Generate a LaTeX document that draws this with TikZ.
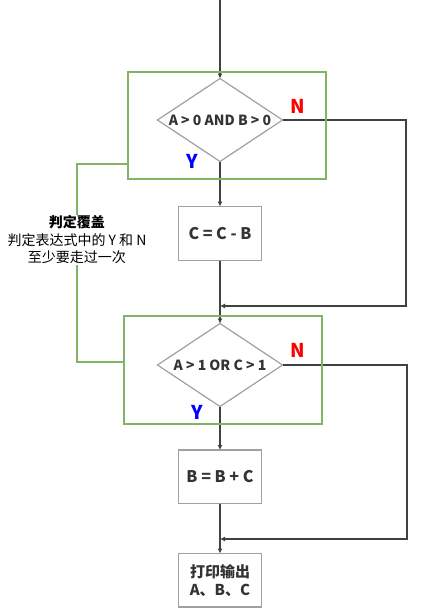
\documentclass[tikz,border=0pt]{standalone}
\usepackage{fontspec}
\setmainfont{Noto Sans CJK SC}
\usetikzlibrary{arrows.meta,positioning,shapes.geometric}
\definecolor{covergreen}{HTML}{82B366}
\definecolor{linegray}{HTML}{404040}
\definecolor{shapegray}{HTML}{A0A0A0}
\definecolor{textgray}{HTML}{333333}
\tikzset{
  decision/.style={diamond,draw=shapegray,line width=1.2pt,aspect=1.5,inner sep=0pt,outer sep=0pt,
    minimum width=125pt,minimum height=83pt,text=textgray,text height=10pt,text depth=0pt,
    font=\bfseries\fontsize{14}{16}\selectfont},
  process/.style={rectangle,draw=shapegray,line width=1.2pt,outer sep=0pt,minimum width=83pt,
    minimum height=53.5pt,align=center,text=textgray,
    font=\bfseries\fontsize{16}{18.3}\selectfont},
  coverbox/.style={rectangle,draw=covergreen,line width=2pt,minimum width=198pt,minimum height=107pt},
  coverline/.style={draw=covergreen,line width=2pt},
  flow/.style={draw=linegray,line width=1.8pt,-{Latex[length=5pt,width=5pt]}},
  nlabel/.style={text=red,font=\bfseries\fontsize{19}{20}\selectfont},
  ylabel/.style={text=blue,font=\bfseries\fontsize{19}{20}\selectfont}
}

\begin{document}
\begin{tikzpicture}[x=1pt,y=-1pt]
\useasboundingbox (0,0) rectangle (422,611);

% =========================================================
% Main flow
% =========================================================

\coordinate (start) at (220,0);

\node[decision] (d1) at (220,120) {A > 0 AND B > 0};
\node[process,minimum height=54pt,below=45pt of d1] (b1) {C = C - B};
\node[decision,below=63pt of b1] (d2) {A > 1 OR C > 1};
\node[process,below=43.5pt of d2] (b2) {B = B + C};
\node[process,font=\bfseries\fontsize{15}{18.3}\selectfont,below=50pt of b2] (b3) {打印输出\\A、B、C};

\node[nlabel] (n1) at (297.5,106) {N};
\node[ylabel] (y1) at (192.5,161) {Y};
\node[nlabel] (n2) at (297.5,350) {N};
\node[ylabel] (y2) at (197.5,412) {Y};

\draw[flow] (start) -- (d1);
\draw[flow] (d1) -- (b1);
\draw[flow] (b1) -- (d2);
\draw[flow] (d2) -- (b2);
\draw[flow] (b2) -- (b3);

% N branches join the main line again
\coordinate (j1) at (220,306);
\coordinate (r1) at (406,306);
\draw[flow] (d1.east) -| (r1) -- (j1);

\coordinate (j2) at (220,539);
\coordinate (r2) at (407,539);
\draw[flow] (d2.east) -| (r2) -- (j2);

% =========================================================
% Decision coverage
% =========================================================

\node[coverbox] (cover1) at (227,125.8) {};
\node[coverbox,minimum height=108pt] (cover2) at (223,369.5) {};

\coordinate (bend) at (77,240);
\draw[coverline] ([yshift=16pt]cover1.south west) -| (bend) |- ([yshift=7.5pt]cover2.west);

\node[fill=white,inner sep=1pt,align=center,text=black,
  font=\fontsize{14}{17.5}\selectfont] (note) at (bend)
  {\textbf{判定覆盖}\\判定表达式中的 Y 和 N\\至少要走过一次};

\end{tikzpicture}
\end{document}
